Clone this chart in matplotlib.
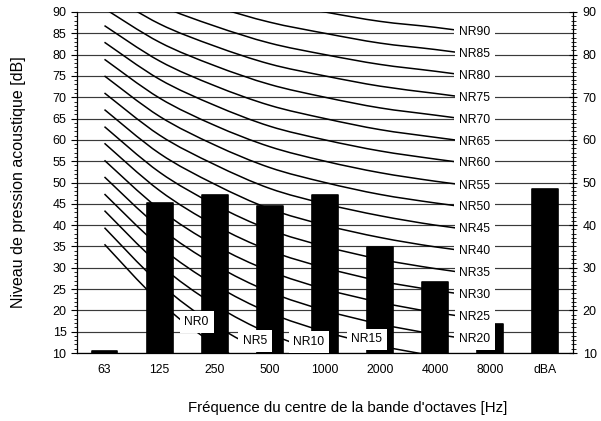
import numpy as np
import matplotlib
matplotlib.use('Agg')
import matplotlib.pyplot as plt
from matplotlib.path import Path
from matplotlib.patches import PathPatch
from matplotlib.ticker import MultipleLocator

plt.rcParams['font.family'] = ['Liberation Sans', 'DejaVu Sans']

# ---------------------------------------------------------------------------
# Data
# ---------------------------------------------------------------------------
BANDS = ['63', '125', '250', '500', '1000', '2000', '4000', '8000', 'dBA']
BAR_VALUES = [10.5, 45.2, 47.0, 44.6, 47.1, 34.9, 26.7, 16.8, 48.5]

NR_LEVELS = [0, 5, 10, 15, 20, 25, 30, 35, 40, 45, 50, 55, 60, 65, 70, 75, 80, 85, 90]
# NR curve levels per octave band 63 .. 8000 Hz
NR_CURVES = [
    [35.5, 22.0, 12.0, 4.8, 0.0, -3.5, -6.1, -8.0],
    [39.4, 26.3, 16.6, 9.7, 5.0, 1.6, -1.0, -2.8],
    [43.4, 30.7, 21.3, 14.5, 10.0, 6.6, 4.2, 2.3],
    [47.3, 35.0, 26.0, 19.4, 15.0, 11.7, 9.3, 7.4],
    [51.3, 39.4, 30.7, 24.3, 20.0, 16.8, 14.4, 12.6],
    [55.2, 43.7, 35.3, 29.2, 25.0, 21.9, 19.5, 17.7],
    [59.2, 48.1, 40.0, 34.0, 30.0, 26.9, 24.7, 22.9],
    [63.1, 52.4, 44.8, 38.9, 35.0, 32.0, 29.8, 28.0],
    [67.1, 56.8, 49.6, 43.8, 40.0, 37.1, 34.9, 33.2],
    [71.0, 61.1, 54.2, 48.6, 45.0, 42.2, 40.0, 38.3],
    [75.0, 65.5, 58.8, 53.5, 50.0, 47.2, 45.2, 43.5],
    [78.9, 69.8, 63.4, 58.4, 55.0, 52.3, 50.3, 48.6],
    [82.9, 74.2, 68.1, 63.2, 60.0, 57.4, 55.5, 53.8],
    [86.8, 78.5, 72.7, 68.1, 65.0, 62.4, 60.6, 58.9],
    [90.8, 82.9, 77.4, 73.0, 70.0, 67.5, 65.8, 64.1],
    [94.7, 87.2, 82.0, 77.8, 75.0, 72.6, 70.9, 69.2],
    [98.7, 91.6, 86.7, 82.7, 80.0, 77.7, 76.1, 74.4],
    [102.6, 95.9, 91.3, 87.6, 85.0, 82.7, 81.2, 79.5],
    [106.6, 100.3, 96.0, 92.5, 90.0, 87.8, 86.4, 84.7],
]

Y_MIN, Y_MAX = 10, 90


def smooth_path(xs, ys):
    """Bezier path through the points (Excel-like smoothed line)."""
    pts = np.column_stack([xs, ys]).astype(float)
    n = len(pts)
    verts = [pts[0]]
    codes = [Path.MOVETO]
    for i in range(n - 1):
        p0 = pts[i - 1] if i > 0 else pts[i]
        p1, p2 = pts[i], pts[i + 1]
        p3 = pts[i + 2] if i + 2 < n else pts[i + 1]
        verts += [p1 + (p2 - p0) / 6, p2 - (p3 - p1) / 6, p2]
        codes += [Path.CURVE4] * 3
    return Path(verts, codes)


fig = plt.figure(figsize=(6.01, 4.21), dpi=100)
ax = fig.add_axes([0.128, 0.1615, 0.8254, 0.81])

x = np.arange(len(BANDS))
curve_x = x[:8]

# grid
for v in range(Y_MIN, Y_MAX + 1, 5):
    ax.axhline(v, color='#3a3a3a', linewidth=0.85, zorder=1)

# NR curves
for curve in NR_CURVES:
    ax.add_patch(PathPatch(smooth_path(curve_x, curve), facecolor='none',
                           edgecolor='black', linewidth=1.1, zorder=2))

# bars
ax.bar(x, np.array(BAR_VALUES) - Y_MIN, bottom=Y_MIN, width=0.47,
       color='black', edgecolor='black', linewidth=1.2, joinstyle='round', zorder=3)

# NR labels
label_box = dict(boxstyle='square,pad=0.4', facecolor='white', edgecolor='none')
LABEL_X = 6.72
for lvl, curve in zip(NR_LEVELS, NR_CURVES):
    if lvl >= 20:
        ly = np.interp(LABEL_X, curve_x, curve) + 0.2
        ax.text(LABEL_X, ly, f'NR{lvl}', ha='center', va='center', fontsize=8.7,
                bbox=label_box, zorder=5)
low_labels = {0: (1.67, 17.3), 5: (2.73, 12.8), 10: (3.71, 12.6), 15: (4.76, 13.2)}
for lvl, (lx, ly) in low_labels.items():
    ax.text(lx, ly, f'NR{lvl}', ha='center', va='center', fontsize=8.7,
            bbox=label_box, zorder=5)

ax.set_xlim(-0.5, len(BANDS) - 0.5)
ax.set_ylim(Y_MIN, Y_MAX)
ax.set_xticks(x)
ax.set_xticklabels(BANDS, fontsize=8.8)
ax.tick_params(axis='x', length=0, pad=8)
ax.yaxis.set_major_locator(MultipleLocator(5))
ax.yaxis.set_minor_locator(MultipleLocator(1))
ax.tick_params(axis='y', which='major', direction='out', length=4.5, width=0.8,
               labelsize=9, pad=3)
ax.tick_params(axis='y', which='minor', direction='out', length=2.2, width=0.6)
for s in ['top', 'right']:
    ax.spines[s].set_visible(False)
ax.spines['left'].set_linewidth(0.9)
ax.spines['bottom'].set_linewidth(0.9)
ax.set_ylabel('Niveau de pression acoustique [dB]', fontsize=11.5)
ax.yaxis.set_label_coords(-0.102, 0.5)

# right axis
ax2 = ax.twinx()
ax2.set_ylim(Y_MIN, Y_MAX)
ax2.yaxis.set_major_locator(MultipleLocator(10))
ax2.yaxis.set_minor_locator(MultipleLocator(1))
ax2.tick_params(axis='y', which='major', direction='inout', length=6, width=0.8,
                labelsize=9, pad=4)
ax2.tick_params(axis='y', which='minor', direction='inout', length=3.6, width=0.6)
for s in ['top', 'left', 'bottom']:
    ax2.spines[s].set_visible(False)
ax2.spines['right'].set_linewidth(0.9)

fig.text(0.578, 0.031, "Fréquence du centre de la bande d'octaves [Hz]",
         ha='center', va='center', fontsize=10.8)

fig.savefig('out.png', dpi=100)
